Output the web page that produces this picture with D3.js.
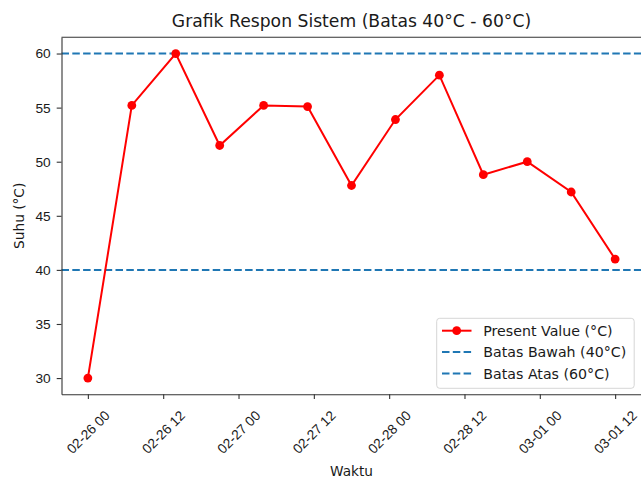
<!DOCTYPE html>
<html>
<head>
<meta charset="utf-8">
<script src="https://cdn.jsdelivr.net/npm/d3@7"></script>
<style>
body { margin: 0; background: #fff; }
svg { display: block; font-family: "DejaVu Sans", sans-serif; }
</style>
</head>
<body>
<svg width="641" height="479"></svg>
<script>
let times = ['2025-02-26 00', '2025-02-26 07', '2025-02-26 14', '2025-02-26 21', '2025-02-27 04',
	'2025-02-27 11', '2025-02-27 18', '2025-02-28 01', '2025-02-28 08', '2025-02-28 15',
	'2025-02-28 22', '2025-03-01 05', '2025-03-01 12'];
let values = [30, 55.2, 60, 51.5, 55.2, 55.1, 47.8, 53.9, 58, 48.8, 50, 47.2, 41];
let lowerLimit = 40, upperLimit = 60;
let yTicks = [30, 35, 40, 45, 50, 55, 60];
let legendLabels = ['Present Value (°C)', 'Batas Bawah (40°C)', 'Batas Atas (60°C)'];

let axLeft = 61.5, axRight = 641.5, axTop = 37.3, axBottom = 394.3;
let fs = 13.7;
let parse = d3.utcParse('%Y-%m-%d %H');
let data = times.map(function(t, i) { return { t: parse(t), v: values[i] }; });

let field = d3.select('svg');

let t0 = data[0].t, t1 = data[data.length - 1].t;
let pad = (t1 - t0) * 0.05;
let x = d3.scaleUtc()
	.domain([new Date(+t0 - pad), new Date(+t1 + pad)])
	.range([axLeft, axRight]);
let y = d3.scaleLinear()
	.domain([28.5, 61.5])
	.range([axBottom, axTop]);

// limit lines
[lowerLimit, upperLimit].forEach(function(v) {
	field.append('line')
		.attr('x1', axLeft).attr('x2', axRight)
		.attr('y1', y(v)).attr('y2', y(v))
		.attr('stroke', '#1f77b4')
		.attr('stroke-width', 2)
		.attr('stroke-dasharray', '7.5,3.3');
});

// present value line
field.append('path')
	.datum(data)
	.attr('fill', 'none')
	.attr('stroke', '#ff0000')
	.attr('stroke-width', 2)
	.attr('d', d3.line().x(function(d) { return x(d.t); }).y(function(d) { return y(d.v); }));

field.append('g')
	.selectAll('circle')
	.data(data)
	.join('circle')
	.attr('cx', function(d) { return x(d.t); })
	.attr('cy', function(d) { return y(d.v); })
	.attr('r', 4.4)
	.attr('fill', '#ff0000');

// axes
let xAxis = field.append('g')
	.attr('transform', 'translate(0,' + axBottom + ')')
	.call(d3.axisBottom(x).ticks(d3.utcHour.every(12)).tickFormat(d3.utcFormat('%m-%d %H')).tickSize(4.8).tickSizeOuter(0));
xAxis.select('.domain').attr('stroke', '#333').attr('stroke-width', 1.1);
xAxis.selectAll('.tick line').attr('stroke', '#333').attr('stroke-width', 1.1);
xAxis.selectAll('.tick text')
	.attr('font-size', fs)
	.attr('fill', '#1a1a1a')
	.attr('text-anchor', 'middle')
	.attr('dominant-baseline', 'central')
	.attr('dy', null)
	.attr('y', null)
	.attr('transform', 'translate(0,38) rotate(-45)');

let yAxis = field.append('g')
	.attr('transform', 'translate(' + axLeft + ',0)')
	.call(d3.axisLeft(y).tickValues(yTicks).tickSize(4.8).tickSizeOuter(0).tickPadding(6));
yAxis.select('.domain').attr('stroke', '#333').attr('stroke-width', 1.1);
yAxis.selectAll('.tick line').attr('stroke', '#333').attr('stroke-width', 1.1);
yAxis.selectAll('.tick text').attr('font-size', fs).attr('fill', '#1a1a1a');

// top spine
field.append('line')
	.attr('x1', axLeft).attr('x2', axRight)
	.attr('y1', axTop).attr('y2', axTop)
	.attr('stroke', '#333').attr('stroke-width', 1.1);

// titles
field.append('text')
	.attr('x', (axLeft + axRight) / 2).attr('y', 27)
	.attr('text-anchor', 'middle')
	.attr('font-size', 17.2)
	.attr('fill', '#1a1a1a')
	.text('Grafik Respon Sistem (Batas 40°C - 60°C)');
field.append('text')
	.attr('x', (axLeft + axRight) / 2).attr('y', 476)
	.attr('text-anchor', 'middle')
	.attr('font-size', fs)
	.attr('fill', '#1a1a1a')
	.text('Waktu');
field.append('text')
	.attr('transform', 'translate(24,' + (axTop + axBottom) / 2 + ') rotate(-90)')
	.attr('text-anchor', 'middle')
	.attr('font-size', fs)
	.attr('fill', '#1a1a1a')
	.text('Suhu (°C)');

// legend
let lg = field.append('g');
lg.append('rect')
	.attr('x', 436.7).attr('y', 318.3)
	.attr('width', 197.5).attr('height', 70)
	.attr('rx', 3)
	.attr('fill', '#fff').attr('fill-opacity', 0.8)
	.attr('stroke', '#d6d6d6');
legendLabels.forEach(function(label, i) {
	let ly = 330.7 + i * 21.4;
	lg.append('line')
		.attr('x1', 442).attr('x2', 471.5)
		.attr('y1', ly).attr('y2', ly)
		.attr('stroke', i == 0 ? '#ff0000' : '#1f77b4')
		.attr('stroke-width', 2)
		.attr('stroke-dasharray', i == 0 ? null : '7.5,3.3');
	if (i == 0) {
		lg.append('circle').attr('cx', 456.7).attr('cy', ly).attr('r', 4.4).attr('fill', '#ff0000');
	}
	lg.append('text')
		.attr('x', 483.3).attr('y', ly)
		.attr('dy', '0.36em')
		.attr('font-size', 14.2)
		.attr('fill', '#1a1a1a')
		.text(label);
});
</script>
</body>
</html>
